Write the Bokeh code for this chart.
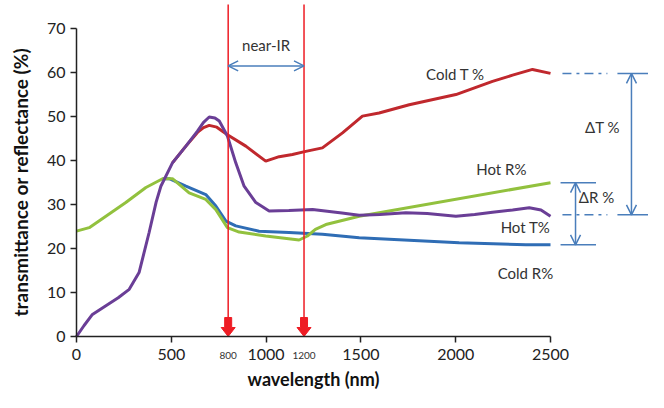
import math
from bokeh.plotting import figure
from bokeh.models import Range1d, Arrow, OpenHead, FixedTicker
from bokeh.core.properties import value
from bokeh.embed import file_html
from bokeh.resources import INLINE

# ---- data ----
hot_t_x = [0, 40, 84, 155, 220, 278, 330, 383, 420, 445, 506, 577, 638, 670, 700, 730, 753, 796, 840, 884, 946, 1016, 1120, 1245, 1400, 1491, 1600, 1737, 1850, 2001, 2100, 2194, 2300, 2388, 2450, 2500]
hot_t_y = [0, 2.5, 5.0, 7.0, 8.8, 10.7, 14.5, 23.6, 30.5, 34.1, 39.4, 43.2, 46.6, 48.6, 49.8, 49.6, 48.9, 45.5, 39.4, 34.1, 30.4, 28.5, 28.6, 28.8, 28.0, 27.5, 27.7, 28.1, 27.9, 27.3, 27.7, 28.2, 28.7, 29.2, 28.7, 27.3]

cold_t_x = [506, 577, 638, 670, 700, 740, 796, 893, 998, 1069, 1139, 1209, 1297, 1403, 1508, 1596, 1755, 2001, 2194, 2300, 2405, 2500]
cold_t_y = [39.4, 43.2, 46.3, 47.4, 47.9, 47.5, 45.8, 43.2, 39.8, 40.8, 41.3, 42.0, 42.8, 46.2, 50.0, 50.7, 52.6, 54.9, 57.9, 59.3, 60.6, 59.7]

cold_r_x = [454, 489, 577, 682, 735, 788, 840, 963, 1121, 1297, 1491, 2018, 2370, 2500]
cold_r_y = [35.8, 35.8, 34.1, 32.2, 29.6, 26.2, 25.1, 23.9, 23.6, 23.2, 22.4, 21.3, 20.8, 20.8]

hot_r_x = [0, 67, 155, 260, 366, 454, 506, 594, 682, 735, 796, 858, 998, 1174, 1218, 1260, 1315, 1491, 2500]
hot_r_y = [23.9, 24.7, 27.3, 30.4, 33.8, 35.8, 35.8, 32.6, 31.1, 28.8, 24.7, 23.7, 22.8, 21.9, 22.8, 24.3, 25.4, 27.3, 34.9]

x_ticks = [0, 500, 1000, 1500, 2000, 2500]
y_ticks = [0, 10, 20, 30, 40, 50, 60, 70]

nir_bounds = [800, 1200]
nir_labels = ["800", "1200"]

series_labels = ["Cold T %", "Hot R%", "Hot T%", "Cold R%"]
series_label_x = [1999, 2241, 2368, 2368]
series_label_y = [59.6, 38.1, 24.9, 14.5]

delta_t = [59.7, 27.6]
delta_r = [34.9, 20.8]

x_title = "wavelength (nm)"
y_title = "transmittance or reflectance (%)"

FONT = "Lato"
RED = "#c0282d"
PURPLE = "#6a3e96"
BLUE = "#2f6db5"
GREEN = "#92c13e"
VRED = "#ee1c24"
ARROW = "#4a7ebb"
TXT = "#333333"

W, H = 648, 392
PX_X = 474 / 2500.0       # pixels per nm
PX_Y = 308.5 / 70.0       # pixels per percent
X0 = -76 / PX_X
X1 = X0 + W / PX_X
Y1 = 336 / PX_Y
Y0 = Y1 - H / PX_Y

p = figure(width=W, height=H, output_backend="svg", toolbar_location=None,
           x_range=Range1d(X0, X1), y_range=Range1d(Y0, Y1),
           min_border=0)
p.outline_line_color = None
p.xgrid.visible = False
p.ygrid.visible = False
p.background_fill_color = "white"

for ax, ticks, bounds in [(p.xaxis[0], x_ticks, (0, 2500)), (p.yaxis[0], y_ticks, (0, 70))]:
    ax.ticker = FixedTicker(ticks=ticks)
    ax.bounds = bounds
    ax.fixed_location = 0
    ax.minor_tick_line_color = None
    ax.major_tick_in = 0
    ax.major_tick_out = 6
    ax.axis_line_width = 1.5
    ax.axis_line_color = "#222222"
    ax.major_tick_line_color = "#222222"
    ax.major_tick_line_width = 1.5
    ax.major_label_text_font = FONT
    ax.major_label_text_font_size = "16px"
    ax.major_label_text_color = "#222222"
p.xaxis[0].major_label_standoff = 6
p.yaxis[0].major_label_standoff = 5

# curves
p.line(cold_r_x, cold_r_y, line_color=BLUE, line_width=3)
p.line(hot_r_x, hot_r_y, line_color=GREEN, line_width=3)
p.line(cold_t_x, cold_t_y, line_color=RED, line_width=3)
p.line(hot_t_x, hot_t_y, line_color=PURPLE, line_width=3)

# near-IR vertical lines with block arrows
top_y = 332 / PX_Y
for xb in nir_bounds:
    p.line([xb, xb], [2.0, top_y], line_color=VRED, line_width=1.5)
    sw = 3.5 / PX_X
    hw = 7.0 / PX_X
    y_top = 19 / PX_Y
    y_neck = 9 / PX_Y
    p.patch([xb - sw, xb + sw, xb + sw, xb + hw, xb, xb - hw, xb - sw],
            [y_top, y_top, y_neck, y_neck, 0, y_neck, y_neck],
            fill_color=VRED, line_color=VRED, line_width=1)

p.add_layout(Arrow(x_start=nir_bounds[0], y_start=61.4, x_end=nir_bounds[1], y_end=61.4,
                   line_color=ARROW, line_width=1.5,
                   start=OpenHead(size=10, line_color=ARROW, line_width=1.5),
                   end=OpenHead(size=10, line_color=ARROW, line_width=1.5)))
p.text(x=[(nir_bounds[0] + nir_bounds[1]) / 2], y=[66.2], text=["near-IR"],
       text_font=value(FONT), text_font_size="15px", text_color=TXT,
       text_align="center", text_baseline="middle")

p.text(x=nir_bounds, y=[-4.3, -4.3], text=nir_labels,
       text_font=value(FONT), text_font_size="10px", text_color=TXT,
       text_align="center", text_baseline="middle")

# series labels
p.text(x=series_label_x, y=series_label_y, text=series_labels,
       text_font=value(FONT), text_font_size="15px", text_color=TXT,
       text_align="center", text_baseline="middle")

# delta T annotation
for yv in delta_t:
    p.line([2563, 2800], [yv, yv], line_color=ARROW, line_width=1.5, line_dash="9 5 3 5")
    p.line([2853, 3017], [yv, yv], line_color=ARROW, line_width=1.5)
p.add_layout(Arrow(x_start=2927, y_start=delta_t[1], x_end=2927, y_end=delta_t[0],
                   line_color=ARROW, line_width=1.5,
                   start=OpenHead(size=10, line_color=ARROW, line_width=1.5),
                   end=OpenHead(size=10, line_color=ARROW, line_width=1.5)))
p.text(x=[2774], y=[47.6], text=["ΔT %"], text_font=value(FONT), text_font_size="15px",
       text_color=TXT, text_align="center", text_baseline="middle")

# delta R annotation
for yv in delta_r:
    p.line([2553, 2740], [yv, yv], line_color=ARROW, line_width=1.5)
p.add_layout(Arrow(x_start=2632, y_start=delta_r[1], x_end=2632, y_end=delta_r[0],
                   line_color=ARROW, line_width=1.5,
                   start=OpenHead(size=10, line_color=ARROW, line_width=1.5),
                   end=OpenHead(size=10, line_color=ARROW, line_width=1.5)))
p.text(x=[2743], y=[31.7], text=["ΔR %"], text_font=value(FONT), text_font_size="15px",
       text_color=TXT, text_align="center", text_baseline="middle")

# axis titles
p.text(x=[1250], y=[-9.6], text=[x_title], text_font=value(FONT),
       text_font_size="18px", text_font_style="bold", text_color="#111111",
       text_align="center", text_baseline="middle")
p.text(x=[-295], y=[35], text=[y_title], text_font=value(FONT),
       text_font_size="19px", text_font_style="bold", text_color="#111111",
       text_align="center", text_baseline="middle", angle=math.pi / 2)

open("out.html", "w").write(file_html(p, INLINE))
